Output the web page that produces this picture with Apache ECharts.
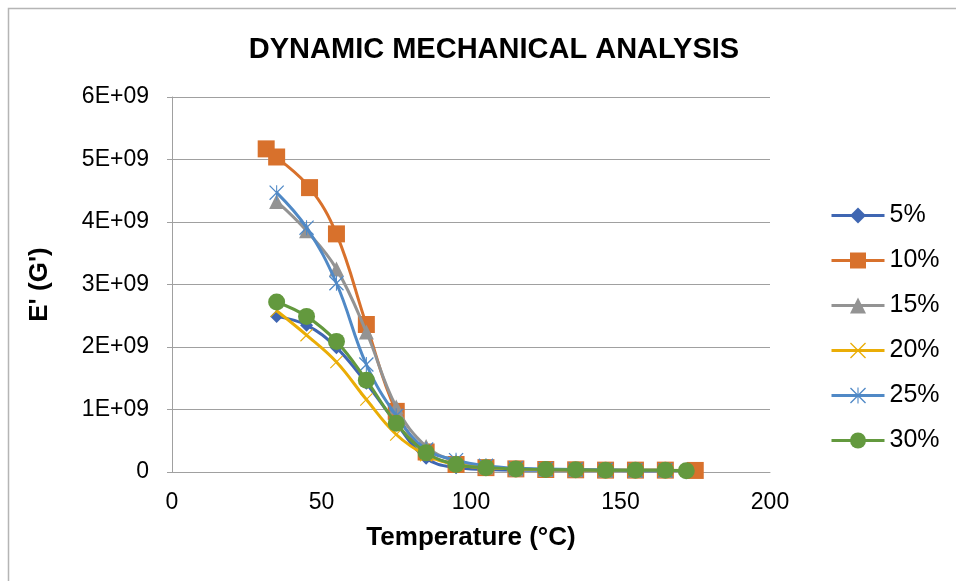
<!DOCTYPE html>
<html><head><meta charset="utf-8">
<script src="https://cdn.jsdelivr.net/npm/echarts@6/dist/echarts.min.js"></script>
<style>html,body{margin:0;padding:0;background:#fff}#c{width:956px;height:581px}</style>
</head><body><div id="c"></div>
<script>
// ---- data ----
const seriesNames = ['5%', '10%', '15%', '20%', '25%', '30%'];
const temps = [35, 45, 55, 65, 75, 85, 95, 105, 115, 125, 135, 145, 155, 165];
const temps10 = [31.5, 35, 46, 55, 65, 75, 85, 95, 105, 115, 125, 135, 145, 155, 165, 175];
const temps30 = [35, 45, 55, 65, 75, 85, 95, 105, 115, 125, 135, 145, 155, 165, 172];
const e5  = [2.49e9, 2.35e9, 1.99e9, 1.42e9, 0.78e9, 0.22e9, 0.07e9, 0.04e9, 0.03e9, 0.03e9, 0.025e9, 0.025e9, 0.02e9, 0.02e9];
const e10 = [5.17e9, 5.04e9, 4.55e9, 3.81e9, 2.36e9, 0.97e9, 0.32e9, 0.12e9, 0.07e9, 0.05e9, 0.04e9, 0.035e9, 0.03e9, 0.03e9, 0.03e9, 0.025e9];
const e15 = [4.33e9, 3.86e9, 3.25e9, 2.24e9, 1.04e9, 0.41e9, 0.17e9, 0.08e9, 0.05e9, 0.04e9, 0.035e9, 0.03e9, 0.03e9, 0.03e9];
const e20 = [2.58e9, 2.19e9, 1.76e9, 1.16e9, 0.60e9, 0.27e9, 0.12e9, 0.07e9, 0.05e9, 0.04e9, 0.035e9, 0.03e9, 0.03e9, 0.03e9];
const e25 = [4.47e9, 3.91e9, 3.02e9, 1.72e9, 0.90e9, 0.36e9, 0.19e9, 0.10e9, 0.06e9, 0.05e9, 0.04e9, 0.035e9, 0.03e9, 0.03e9];
const e30 = [2.72e9, 2.49e9, 2.09e9, 1.47e9, 0.78e9, 0.31e9, 0.12e9, 0.07e9, 0.05e9, 0.04e9, 0.035e9, 0.03e9, 0.03e9, 0.03e9, 0.02e9];
const xTicks = [0, 50, 100, 150, 200];
const yTickLabels = ['0', '1E+09', '2E+09', '3E+09', '4E+09', '5E+09', '6E+09'];

// ---- styling ----
const colors = ['#3F66B2', '#D8712C', '#939393', '#EAAD06', '#5089C6', '#63993E'];
const xPath = 'path://M0,1.2L1.2,0L20,18.8L18.8,20ZM18.8,0L20,1.2L1.2,20L0,18.8Z';
const starPath = 'path://M0,1.2L1.2,0L20,18.8L18.8,20ZM18.8,0L20,1.2L1.2,20L0,18.8ZM9.3,0L10.7,0L10.7,20L9.3,20Z';
const symbols = ['diamond', 'rect', 'triangle', xPath, starPath, 'circle'];
const sizes = [13, 17, 15, 13, 15, 17];
const xs = [temps, temps10, temps, temps, temps, temps30];
const ys = [e5, e10, e15, e20, e25, e30];
const font = "'Liberation Sans', Arial, sans-serif";

const series = seriesNames.map((n, i) => ({
  name: n, type: 'line', smooth: 0.4,
  data: xs[i].map((t, k) => [t, ys[i][k]]),
  symbol: symbols[i], symbolSize: sizes[i],
  lineStyle: { color: colors[i], width: 3 },
  itemStyle: { color: colors[i] },
  z: 2 + i
}));

const chart = echarts.init(document.getElementById('c'), null, { renderer: 'canvas' });
chart.setOption({
  animation: false,
  backgroundColor: '#fff',
  color: colors,
  title: {
    text: 'DYNAMIC MECHANICAL ANALYSIS', left: 489, top: 30, textAlign: 'center',
    textStyle: { fontFamily: font, fontSize: 29, fontWeight: 'bold', color: '#000' }
  },
  graphic: [{ type: 'rect', shape: { x: 8.5, y: 8.5, width: 2000, height: 2000 },
    style: { fill: 'none', stroke: '#b5b5b5', lineWidth: 1.5 }, silent: true, z: -1 }],
  grid: { left: 172, right: 186, top: 97, bottom: 109, containLabel: false },
  legend: {
    orient: 'vertical', left: 825, top: 198, itemWidth: 53, itemHeight: 20, itemGap: 20,
    data: seriesNames,
    lineStyle: { width: 3 },
    textStyle: { fontFamily: font, fontSize: 25, color: '#000', lineHeight: 20, padding: [0, 0, 0, 0] }
  },
  xAxis: {
    type: 'value', min: 0, max: 200, interval: 50,
    name: 'Temperature (°C)', nameLocation: 'middle', nameGap: 53,
    nameTextStyle: { fontFamily: font, fontSize: 26, fontWeight: 'bold', color: '#000' },
    axisLine: { show: true, lineStyle: { color: '#a0a0a0', width: 1 } },
    axisTick: { show: false }, splitLine: { show: false },
    axisLabel: { fontFamily: font, fontSize: 23, color: '#000', margin: 19,
      formatter: v => xTicks.includes(v) ? String(v) : '' }
  },
  yAxis: {
    type: 'value', min: 0, max: 6e9, interval: 1e9,
    name: "E' (G')", nameLocation: 'middle', nameGap: 119, nameRotate: 90,
    nameTextStyle: { fontFamily: font, fontSize: 26, fontWeight: 'bold', color: '#000' },
    axisLine: { show: true, lineStyle: { color: '#a0a0a0', width: 1 } },
    axisTick: { show: true, length: 5, lineStyle: { color: '#a0a0a0' } },
    splitLine: { show: true, lineStyle: { color: '#a0a0a0', width: 1 } },
    axisLabel: { fontFamily: font, fontSize: 23, color: '#000', margin: 23,
      formatter: v => yTickLabels[Math.round(v / 1e9)] }
  },
  series: series
});
</script></body></html>
